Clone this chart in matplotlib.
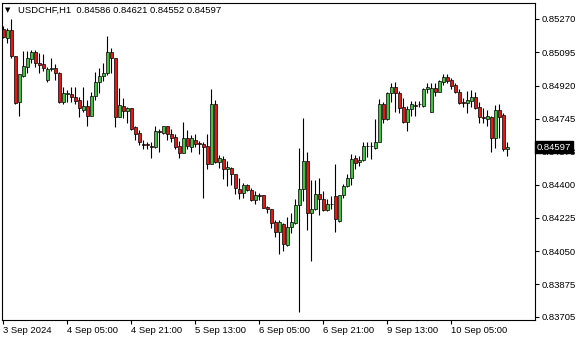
import numpy as np
import matplotlib
matplotlib.use("Agg")
import matplotlib.pyplot as plt
from matplotlib.transforms import blended_transform_factory

plt.rcParams["font.family"] = ["Liberation Sans", "DejaVu Sans"]

# hourly USDCHF bars, 3 Sep 00:00 .. 10 Sep 18:00
opens = [
    .85217, .85170, .85212, .85075, .84832, .84969, .85017, .85059, .85096, .85038,
    .85032, .84948, .85006, .85011, .84985, .84832, .84874, .84874, .84858, .84842,
    .84790, .84811, .84758, .84863, .84937, .84969, .84985, .85096, .85064, .84753,
    .84811, .84784, .84800, .84700, .84673, .84615, .84612, .84605, .84599, .84679,
    .84673, .84705, .84668, .84652, .84605, .84568, .84647, .84599, .84636, .84617,
    .84615, .84605, .84510, .84821, .84520, .84536, .84483, .84489, .84457, .84378,
    .84357, .84399, .84372, .84320, .84346, .84346, .84283, .84272, .84203, .84151,
    .84193, .84082, .84177, .84198, .84293, .84378, .84526, .84251, .84272, .84351,
    .84325, .84267, .84300, .84341, .84209, .84346, .84393, .84436, .84541, .84520,
    .84531, .84601, .84601, .84594, .84626, .84821, .84742, .84879, .84911, .84879,
    .84805, .84726, .84795, .84818, .84821, .84811, .84900, .84779, .84906, .84885,
    .84937, .84964, .84948, .84922, .84885, .84832, .84827, .84837, .84858, .84805,
    .84753, .84742, .84753, .84647, .84790, .84763, .84586]
highs = [
    .85233, .85222, .85270, .85075, .84980, .85101, .85101, .85106, .85106, .85090,
    .85085, .85017, .85064, .85032, .84990, .84911, .84895, .84911, .84911, .84858,
    .84911, .84842, .84885, .84990, .85011, .85038, .85180, .85117, .85064, .84906,
    .84853, .84805, .84800, .84705, .84684, .84636, .84626, .84626, .84710, .84694,
    .84710, .84710, .84694, .84668, .84631, .84726, .84684, .84658, .84663, .84631,
    .84621, .84663, .84900, .84842, .84557, .84552, .84526, .84494, .84457, .84436,
    .84409, .84404, .84383, .84367, .84357, .84346, .84288, .84272, .84214, .84214,
    .84198, .84230, .84251, .84325, .84594, .84747, .84573, .84425, .84425, .84436,
    .84367, .84325, .84341, .84510, .84346, .84404, .84457, .84562, .84557, .84552,
    .84626, .84626, .84626, .84742, .84848, .84832, .84885, .84932, .84937, .84890,
    .84853, .84811, .84837, .84837, .84837, .84906, .84932, .84932, .84932, .84948,
    .84980, .84980, .84958, .84932, .84900, .84853, .84890, .84895, .84885, .84832,
    .84800, .84790, .84758, .84816, .84821, .84774, .84621]
lows = [
    .85170, .85143, .85064, .84821, .84758, .84964, .84985, .85038, .85017, .84985,
    .84995, .84937, .84995, .84948, .84827, .84821, .84832, .84832, .84821, .84753,
    .84779, .84705, .84758, .84842, .84879, .84943, .84974, .84985, .84700, .84753,
    .84747, .84721, .84689, .84636, .84610, .84589, .84589, .84541, .84594, .84573,
    .84668, .84636, .84626, .84589, .84541, .84568, .84589, .84573, .84599, .84562,
    .84330, .84483, .84510, .84515, .84489, .84430, .84393, .84399, .84351, .84325,
    .84330, .84367, .84314, .84298, .84320, .84277, .84251, .84172, .84124, .84035,
    .84050, .84077, .84145, .84193, .83728, .84314, .84161, .83998, .84267, .84240,
    .84262, .84262, .84272, .84151, .84203, .84330, .84388, .84399, .84483, .84499,
    .84526, .84547, .84536, .84589, .84621, .84721, .84737, .84832, .84779, .84774,
    .84721, .84679, .84758, .84758, .84805, .84805, .84879, .84779, .84863, .84885,
    .84922, .84932, .84900, .84879, .84821, .84805, .84774, .84805, .84795, .84721,
    .84721, .84705, .84573, .84594, .84647, .84578, .84552]
closes = [
    .85175, .85212, .85075, .84827, .84980, .85022, .85064, .85096, .85038, .85027,
    .85011, .85006, .85011, .84985, .84832, .84879, .84879, .84858, .84837, .84800,
    .84811, .84758, .84863, .84937, .84969, .84985, .85096, .85064, .84753, .84816,
    .84784, .84800, .84694, .84668, .84621, .84610, .84608, .84599, .84679, .84677,
    .84705, .84668, .84647, .84599, .84568, .84647, .84605, .84642, .84615, .84613,
    .84599, .84510, .84821, .84520, .84541, .84483, .84494, .84457, .84383, .84357,
    .84399, .84372, .84320, .84346, .84341, .84277, .84272, .84198, .84151, .84203,
    .84087, .84177, .84203, .84293, .84378, .84526, .84251, .84272, .84351, .84325,
    .84267, .84298, .84296, .84219, .84346, .84393, .84436, .84536, .84515, .84531,
    .84605, .84603, .84603, .84626, .84821, .84742, .84879, .84911, .84879, .84800,
    .84726, .84795, .84821, .84814, .84824, .84900, .84911, .84906, .84885, .84943,
    .84964, .84943, .84916, .84885, .84827, .84829, .84842, .84858, .84800, .84753,
    .84750, .84758, .84647, .84790, .84753, .84589, .84597]

ytick_vals = [0.83705, 0.83875, 0.84050, 0.84225, 0.84400, 0.84573, 0.84745, 0.84920, 0.85095, 0.85270]
xtick_bars = [0, 16, 32, 48, 64, 80, 96, 112]
xtick_labels = ["3 Sep 2024", "4 Sep 05:00", "4 Sep 21:00", "5 Sep 13:00",
                "6 Sep 05:00", "6 Sep 21:00", "9 Sep 13:00", "10 Sep 05:00"]

o, h, l, c = map(np.array, (opens, highs, lows, closes))
x = np.arange(len(o))
up = c >= o

fig = plt.figure(figsize=(5.8, 3.4), dpi=100)
ax = fig.add_axes([2 / 580, 1 - 320 / 340, 533 / 580, 317 / 340])

ax.vlines(x, l, h, color="black", lw=0.8, zorder=1)
ax.bar(x, np.abs(c - o), bottom=np.minimum(o, c), width=0.7,
       color=np.where(up, "#45c045", "#e01818"), edgecolor="black", linewidth=0.5, zorder=2)

ax.set_xlim(-0.33, 132.9)
ax.set_ylim(0.83688, 0.85354)

ax.yaxis.tick_right()
ax.set_yticks(ytick_vals)
ax.set_yticklabels([f"{v:.5f}" for v in ytick_vals])
ax.tick_params(axis="y", direction="out", length=3, width=0.8, pad=1.5, labelsize=6.8)
ax.set_xticks(xtick_bars)
ax.set_xticklabels(xtick_labels, ha="left")
ax.tick_params(axis="x", direction="out", length=3, width=0.8, pad=1.5, labelsize=6.8)
for s in ax.spines.values():
    s.set_linewidth(0.8)

# current price marker
tr = blended_transform_factory(ax.transAxes, ax.transData)
ax.text(1.003, c[-1], f"{c[-1]:.5f}", transform=tr, color="white", fontsize=6.8,
        va="center", ha="left", clip_on=False, zorder=10,
        bbox=dict(boxstyle="square,pad=0.2", fc="black", ec="black"))

fig.text(5 / 580, 1 - 10 / 340, "\u25bc", fontsize=5, va="center", family=["DejaVu Sans"])
fig.text(18 / 580, 1 - 10 / 340,
         f"USDCHF,H1  {o[-1]:.5f} {h[-1]:.5f} {l[-1]:.5f} {c[-1]:.5f}",
         fontsize=6.8, va="center")

fig.savefig("out.png", dpi=100)
